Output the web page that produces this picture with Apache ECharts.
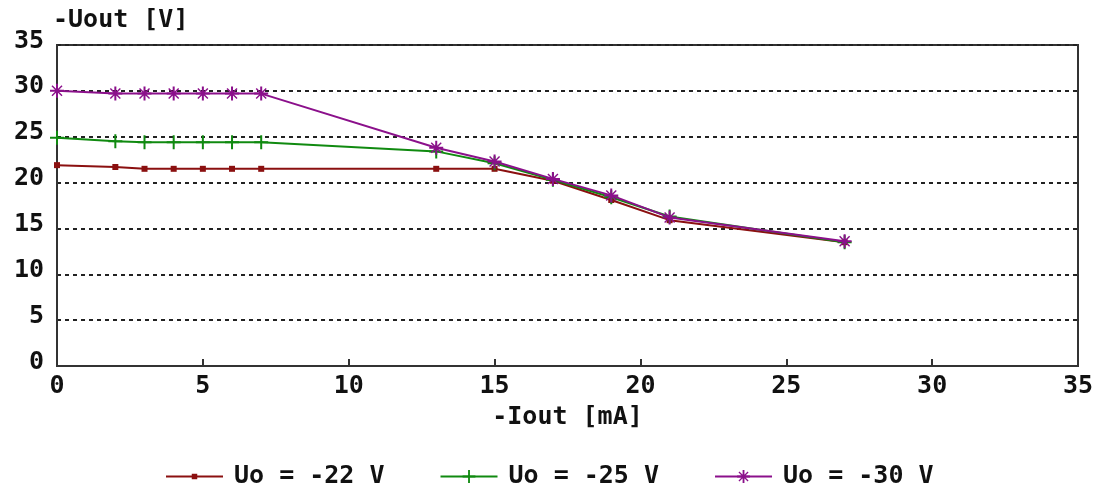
<!DOCTYPE html>
<html><head><meta charset="utf-8">
<script src="https://cdn.jsdelivr.net/npm/echarts@6/dist/echarts.min.js"></script>
<style>html,body{margin:0;padding:0;background:#fff}#c{width:1098px;height:493px}</style>
</head><body><div id="c"></div>
<script>
const seriesNames = ['Uo = -22 V', 'Uo = -25 V', 'Uo = -30 V'];
const iout = [0, 2, 3, 4, 5, 6, 7, 13, 15, 17, 19, 21, 27];
const u22 = [21.9, 21.7, 21.5, 21.5, 21.5, 21.5, 21.5, 21.5, 21.5, 20.2, 18.1, 15.9, 13.5];
const u25 = [24.9, 24.5, 24.4, 24.4, 24.4, 24.4, 24.4, 23.4, 22.1, 20.3, 18.4, 16.3, 13.5];
const u30 = [30.0, 29.7, 29.7, 29.7, 29.7, 29.7, 29.7, 23.8, 22.3, 20.4, 18.6, 16.2, 13.6];
const xTicks = [0, 5, 10, 15, 20, 25, 30, 35];
const yTicks = [0, 5, 10, 15, 20, 25, 30, 35];

const colors = ['#8b1010', '#108a10', '#8b108b'];
const rectPath = 'path://M-7,-7 L-7,-7 M7,7 L7,7 M-3,-3 L3,-3 L3,3 L-3,3 Z';
const plusPath = 'path://M-1,-7 L1,-7 L1,7 L-1,7 Z M-7,-1 L7,-1 L7,1 L-7,1 Z';
const starPath = 'path://M-1,-7 L1,-7 L1,7 L-1,7 Z M-7,-1 L7,-1 L7,1 L-7,1 Z M-5.5,-4.5 L-4.5,-5.5 L5.5,4.5 L4.5,5.5 Z M4.5,-5.5 L5.5,-4.5 L-4.5,5.5 L-5.5,4.5 Z M-2,-2 L2,-2 L2,2 L-2,2 Z';
const font = '"DejaVu Sans Mono", monospace';
const fs = 25;
function pairs(xs, ys) { return xs.map((x, i) => [x, ys[i]]); }

const chart = echarts.init(document.getElementById('c'));
chart.setOption({
  animation: false,
  backgroundColor: '#fff',
  grid: { left: 57, right: 20, top: 45, bottom: 127, show: true, borderColor: '#333', borderWidth: 2,
    outerBoundsMode: 'none', containLabel: false },
  xAxis: {
    type: 'value', min: 0, max: 35, interval: 5,
    name: '-Iout [mA]', nameLocation: 'middle', nameGap: 39,
    nameTextStyle: { fontFamily: font, fontWeight: 'bold', fontSize: fs, color: '#111' },
    axisLine: { show: true, onZero: false, lineStyle: { color: '#333', width: 2 } },
    axisTick: { show: true, inside: true, length: 7, lineStyle: { color: '#333', width: 2 } },
    axisLabel: { fontFamily: font, fontWeight: 'bold', fontSize: fs, color: '#111', margin: 8,
      customValues: xTicks },
    splitLine: { show: false }
  },
  yAxis: {
    type: 'value', min: 0, max: 35, interval: 5,
    name: '-Uout [V]', nameLocation: 'end', nameGap: 12,
    nameTextStyle: { fontFamily: font, fontWeight: 'bold', fontSize: fs, color: '#111', align: 'left', padding: [0, 0, 0, -4] },
    axisLine: { show: true, lineStyle: { color: '#333', width: 2 } },
    axisTick: { show: false },
    axisLabel: { fontFamily: font, fontWeight: 'bold', fontSize: fs, color: '#111', margin: 13,
      verticalAlign: 'bottom', lineHeight: 8, customValues: yTicks },
    splitLine: { show: true, lineStyle: { color: '#222', width: 2, type: [4, 4] } }
  },
  legend: {
    top: 459, left: 160, itemGap: 55, itemWidth: 57, itemHeight: 16,
    textStyle: { fontFamily: font, fontWeight: 'bold', fontSize: fs, color: '#111', padding: [0, 0, 0, 6] },
    data: seriesNames
  },
  series: [
    { name: seriesNames[0], type: 'line', data: pairs(iout, u22), color: colors[0],
      symbol: rectPath, symbolSize: 14, lineStyle: { width: 2 }, z: 3 },
    { name: seriesNames[1], type: 'line', data: pairs(iout, u25), color: colors[1],
      symbol: plusPath, symbolSize: 14, lineStyle: { width: 2 }, z: 4 },
    { name: seriesNames[2], type: 'line', data: pairs(iout, u30), color: colors[2],
      symbol: starPath, symbolSize: 14, lineStyle: { width: 2 }, z: 5 }
  ]
});
</script></body></html>
